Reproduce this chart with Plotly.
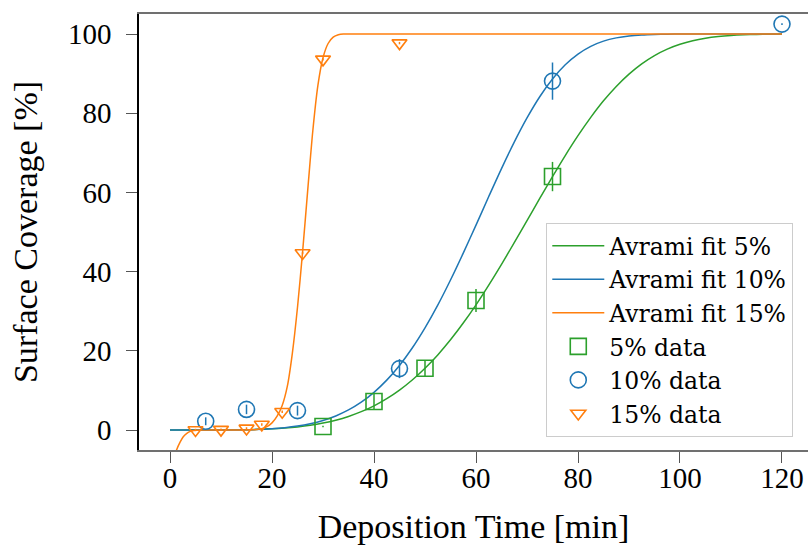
import plotly.graph_objects as go

# ---- measured data ----
t5 = [30, 40, 50, 60, 75]
c5 = [0.9, 7.2, 15.6, 32.7, 64.0]
e5 = [0.2, 2.1, 2.0, 2.9, 3.7]

t10 = [7, 15, 25, 45, 75, 120]
c10 = [2.2, 5.2, 4.9, 15.5, 88.1, 102.5]
e10 = [1.0, 1.2, 1.25, 2.4, 4.7, 0.2]

t15 = [5, 10, 15, 18, 22, 26, 30, 45]
c15 = [0.0, 0.1, 0.4, 1.4, 4.6, 44.7, 93.6, 97.7]
e15 = [0.3, 0.3, 0.3, 0.3, 0.3, 0.3, 0.3, 0.3]

# ---- Avrami fit curves ----
fit5_t = [0, 5, 10, 15, 20, 22.5, 25, 27.5, 30, 32.5, 35, 37.5, 40, 42.5, 45, 47.5, 50,
          52.5, 55, 57.5, 60, 62.5, 65, 67.5, 70, 72.5, 75, 77.5, 80, 82.5, 85, 87.5,
          90, 92.5, 95, 97.5, 100, 102.5, 105, 107.5, 110, 112.5, 115, 117.5, 120]
fit5_c = [0, 0, 0.01, 0.08, 0.29, 0.49, 0.78, 1.19, 1.75, 2.48, 3.43, 4.63, 6.11, 7.92, 10.08,
          12.63, 15.59, 18.97, 22.78, 27.01, 31.61, 36.59, 41.84, 47.29, 52.88, 58.48, 63.99,
          69.31, 74.32, 78.94, 83.12, 86.76, 89.88, 92.47, 94.56, 96.19, 97.41, 98.30, 98.93,
          99.35, 99.62, 99.79, 99.89, 99.94, 99.97]

fit10_t = [0, 5, 10, 15, 20, 22.5, 25, 27.5, 30, 32.5, 35, 37.5, 40, 42.5, 45, 47.5, 50,
           52.5, 55, 57.5, 60, 62.5, 65, 67.5, 70, 72.5, 75, 77.5, 80, 82.5, 85, 87.5,
           90, 92.5, 95, 97.5, 100, 105, 110, 115, 120]
fit10_c = [0, 0, 0.01, 0.08, 0.33, 0.59, 0.99, 1.58, 2.41, 3.55, 5.06, 7.02, 9.51, 12.59,
           16.31, 20.70, 25.79, 31.53, 37.87, 44.66, 51.74, 58.95, 66.01, 72.69, 78.80, 84.16,
           88.64, 92.23, 94.94, 96.89, 98.20, 99.02, 99.51, 99.77, 99.90, 99.96, 99.99, 100,
           100, 100, 100]

fit15_t = [0.6, 1.0, 1.3, 2.0, 2.6, 3.3, 4.0, 5.0, 6, 8, 12, 16, 17, 18, 19, 20, 21, 22,
           23, 24, 25, 26, 27, 28, 29, 30, 31, 32, 33, 34, 36, 120]
fit15_c = [-8.5, -6.3, -5.0, -3.0, -1.7, -0.85, -0.35, -0.08, 0, 0, 0, 0.05, 0.15, 0.35,
           0.85, 1.8, 3.5, 6.2, 11, 19.5, 31, 45, 60.5, 75.5, 87, 94, 97.6, 99.2, 99.8,
           100, 100, 100]

xticks = [0, 20, 40, 60, 80, 100, 120]
yticks = [0, 20, 40, 60, 80, 100]

GREEN = "#2ca02c"
BLUE = "#1f77b4"
ORANGE = "#ff7f0e"
FONT = "Liberation Serif, DejaVu Serif, serif"
LEGEND_FONT = "DejaVu Serif, Liberation Serif, serif"

fig = go.Figure()

for t, c, col, name in [(fit5_t, fit5_c, GREEN, "Avrami fit 5%"),
                        (fit10_t, fit10_c, BLUE, "Avrami fit 10%"),
                        (fit15_t, fit15_c, ORANGE, "Avrami fit 15%")]:
    fig.add_trace(go.Scatter(x=t, y=c, mode="lines", name=name,
                             line=dict(color=col, width=1.5, shape="spline", smoothing=0.8)))

for t, c, e, col, sym, size, name in [
        (t5, c5, e5, GREEN, "square-open", 16, "5% data"),
        (t10, c10, e10, BLUE, "circle-open", 16, "10% data"),
        (t15, c15, e15, ORANGE, "triangle-down-open", 13, "15% data")]:
    fig.add_trace(go.Scatter(
        x=t, y=c, mode="markers", name=name,
        marker=dict(symbol=sym, size=size, color=col, line=dict(width=1.6, color=col)),
        error_y=dict(type="data", array=e, visible=True, width=0, thickness=1.5, color=col)))

fig.update_layout(
    width=808, height=545,
    margin=dict(l=139, r=0, t=14, b=95),
    paper_bgcolor="white", plot_bgcolor="white",
    font=dict(family=FONT, size=29, color="black"),
    showlegend=True,
    legend=dict(x=0.978, xanchor="right", y=0.03, yanchor="bottom",
                bgcolor="white", bordercolor="#cccccc", borderwidth=1,
                font=dict(family=LEGEND_FONT, size=23.5, color="black"),
                itemwidth=52, tracegroupgap=0),
)

fig.update_xaxes(
    range=[-6.08, 125.1], tickvals=xticks, ticktext=[str(v) for v in xticks],
    ticks="outside", ticklen=11, tickwidth=1.2, tickcolor="#555555",
    showline=True, linecolor="#707070", linewidth=2, mirror=True,
    showgrid=False, zeroline=False, ticklabelstandoff=-10,
    tickfont=dict(family=FONT, size=29, color="black"),
    title=dict(text="Deposition Time [min]", font=dict(family=FONT, size=34, color="black"), standoff=22),
)
fig.update_yaxes(
    range=[-5.05, 105.05], tickvals=yticks, ticktext=[str(v) for v in yticks],
    ticks="outside", ticklen=11, tickwidth=1.2, tickcolor="#555555",
    showline=True, linecolor="black", linewidth=1.5, mirror=False,
    showgrid=False, zeroline=False, ticklabelstandoff=9,
    tickfont=dict(family=FONT, size=29, color="black"),
    title=dict(text="Surface Coverage [%]", font=dict(family=FONT, size=34, color="black"), standoff=20),
)

fig.write_html("out.html")
